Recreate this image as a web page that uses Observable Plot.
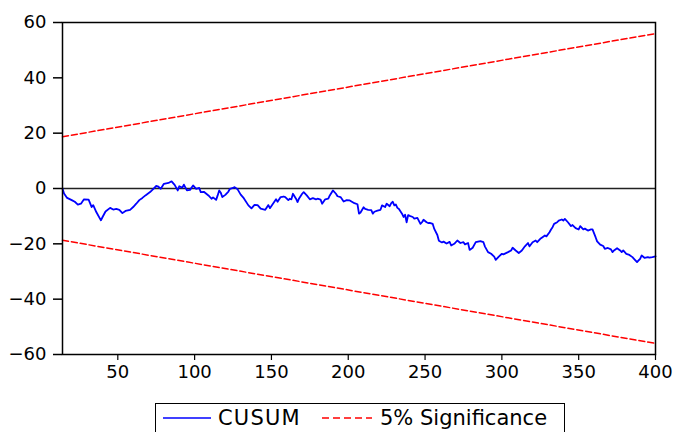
<!DOCTYPE html>
<html>
<head>
<meta charset="utf-8">
<script src="https://cdn.jsdelivr.net/npm/d3@7"></script>
<script src="https://cdn.jsdelivr.net/npm/@observablehq/plot@0.6"></script>
<style>
  html, body { margin: 0; padding: 0; background: #fff; }
  #chart { width: 677px; }
  #legend {
    position: absolute; left: 155px; top: 403px; width: 410px; height: 31px;
    border: 1px solid #000; box-sizing: border-box;
    font-family: "DejaVu Sans", sans-serif; font-size: 21px; color: #000;
  }
  #legend svg { position: absolute; top: 4px; }
  #legend span { position: absolute; top: 2px; white-space: nowrap; line-height: 24px; }
</style>
</head>
<body>
<div id="chart"></div>
<div id="legend">
  <svg width="50" height="20" style="left:7px"><line x1="0" x2="48" y1="10" y2="10" stroke="#0000ff" stroke-width="1.5"/></svg>
  <span style="left:62px; letter-spacing:1.2px">CUSUM</span>
  <svg width="52" height="20" style="left:166px"><line x1="0" x2="50" y1="10" y2="10" stroke="#ff0000" stroke-width="1.5" stroke-dasharray="7,4"/></svg>
  <span style="left:224px">5% Significance</span>
</div>
<script>
// observation index
const obs = [14,15,17,20,22,24,26,28,31,33,34,36,39,40,42,45,47,49,51,53,55,58,60,62,64,66,68,71,73,75,76,78,80,83,85,87,89,90,92,93,95,97,99,101,103,104,106,109,111,112,114,115,116,117,118,120,122,123,125,126,128,130,132,135,137,139,141,143,146,148,149,151,153,154,156,158,159,161,162,163,164,166,167,168,170,171,173,175,177,179,180,182,183,185,187,188,190,192,193,195,197,199,201,204,206,207,208,210,211,213,215,216,217,219,221,222,224,225,227,228,229,230,231,232,233,235,236,237,238,239,240,242,243,245,247,248,249,251,252,253,255,256,258,259,261,262,264,266,267,269,271,273,275,276,278,279,281,283,286,288,289,291,293,295,296,298,300,301,304,306,307,309,311,313,315,317,318,320,322,323,325,326,328,329,331,332,333,334,336,337,339,340,341,343,345,346,348,350,351,353,354,356,358,359,361,362,364,366,367,369,371,372,373,375,377,378,379,381,383,385,386,388,389,390,391,393,395,396,398,400];
// CUSUM statistic
const cusum = [0,-1.8,-3.4,-4.2,-4.8,-5.8,-5.5,-3.9,-4,-6.7,-6,-8.5,-11.5,-10.4,-8.3,-7,-7.6,-7.4,-7.7,-8.9,-8.1,-7.7,-6.7,-5.5,-4.2,-3.4,-2.5,-1.3,-0.2,0.9,0.8,-0.1,1.7,2.0,2.6,1.3,-0.7,0.8,0.3,1.4,-0.7,-0.5,1.1,-0.1,0.2,-1.3,-1.2,-2.5,-3.7,-3.2,-4.1,-2.5,-0.7,-1.5,-3.1,-2.3,-1.1,-0.1,0.2,0.5,-0.3,-2.2,-3.5,-6.1,-7.2,-5.9,-6,-7.3,-7.7,-6,-7.1,-5.5,-3.9,-4.8,-3.1,-2.9,-3.1,-4.2,-3.7,-3.9,-1.9,-3.7,-4.9,-3.6,-1.9,-1.3,-2.5,-3.9,-3.5,-3.9,-3.7,-4,-5.5,-3.9,-3.7,-2.5,-0.7,-1.9,-2.8,-3.1,-4.7,-4.2,-4.3,-5.3,-5.7,-9.1,-8.7,-6.8,-7.4,-7.7,-7.8,-9.1,-8.4,-8,-7.7,-6.1,-6.7,-5.5,-6.4,-5.3,-4.8,-6.1,-5.8,-7,-7.4,-9.1,-10.3,-9.5,-12.2,-9.6,-9.9,-10.3,-10.9,-10.6,-12.8,-12.2,-11.3,-12.2,-12.5,-12.4,-12.8,-14.6,-16.8,-18.9,-19.5,-19.2,-19.9,-19.3,-20.6,-20,-18.8,-19.7,-19.4,-20.2,-19.7,-22.2,-21.4,-19.4,-19,-19.4,-21,-23,-23.6,-24.6,-25.8,-24.6,-23.6,-23.8,-23,-22.4,-21.4,-22.4,-23.3,-22.4,-20.9,-19.7,-20.9,-19.4,-18.8,-19.4,-18.2,-17.8,-17,-17.3,-15.8,-14.8,-14,-12.8,-12.2,-11.6,-11.2,-11.6,-11,-12.2,-13.6,-13.2,-14.3,-14.8,-13.6,-14.8,-14.5,-15.2,-14.8,-14.8,-17.6,-19.1,-20.3,-20.8,-21.8,-21.5,-22,-23,-22.4,-21.6,-22.4,-23,-22.4,-23.6,-24,-24.8,-25.4,-26.6,-26,-25.4,-24.2,-25.1,-24.8,-25,-24.8,-24.5];
// 5% significance bounds (straight lines, endpoints)
const sigObs = [14, 400];
const sigUpper = [18.7, 56];
const sigLower = [-18.7, -56];
const xTicks = [50, 100, 150, 200, 250, 300, 350, 400];
const yTicks = [-60, -40, -20, 0, 20, 40, 60];

const cusumData = obs.map((t, i) => ({t, v: cusum[i]}));
const upperData = sigObs.map((t, i) => ({t, v: sigUpper[i]}));
const lowerData = sigObs.map((t, i) => ({t, v: sigLower[i]}));

const chart = Plot.plot({
  width: 677,
  height: 395,
  marginTop: 22,
  marginLeft: 62,
  marginRight: 22,
  marginBottom: 41,
  style: {fontFamily: "DejaVu Sans, sans-serif", fontSize: "18px", color: "#000", background: "#fff"},
  x: {domain: [14, 400]},
  y: {domain: [-60, 60]},
  marks: [
    Plot.ruleY([0], {stroke: "#222", strokeWidth: 1.3}),
    Plot.line(upperData, {x: "t", y: "v", stroke: "#ff0000", strokeWidth: 1.5, strokeDasharray: "6,3"}),
    Plot.line(lowerData, {x: "t", y: "v", stroke: "#ff0000", strokeWidth: 1.5, strokeDasharray: "6,3"}),
    Plot.line(cusumData, {x: "t", y: "v", stroke: "#0000ff", strokeWidth: 1.8}),
    Plot.frame({stroke: "#000", strokeWidth: 1.5}),
    Plot.axisY({ticks: yTicks, tickSize: 9, tickPadding: 7, label: null, stroke: "#000", strokeWidth: 1.5, fontSize: 18}),
    Plot.axisX({ticks: xTicks, tickSize: 6, tickPadding: 5, label: null, stroke: "#000", strokeWidth: 1.2, fontSize: 18})
  ]
});
document.getElementById("chart").appendChild(chart);
</script>
</body>
</html>
